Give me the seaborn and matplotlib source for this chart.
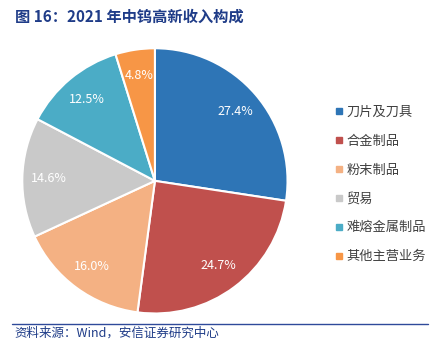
import matplotlib
matplotlib.use('Agg')
import matplotlib.pyplot as plt
from matplotlib.lines import Line2D
import seaborn as sns

# 2021年中钨高新收入构成（%）
categories = ['刀片及刀具', '合金制品', '粉末制品', '贸易', '难熔金属制品', '其他主营业务']
shares = [27.4, 24.7, 16.0, 14.6, 12.5, 4.8]
colors = ['#2E75B6', '#C0504D', '#F4B183', '#C9C9C9', '#4BACC6', '#F79646']

sns.set_theme(style='white')
plt.rcParams['font.family'] = ['Noto Sans CJK SC', 'DejaVu Sans']

fig = plt.figure(figsize=(4.37, 3.55), dpi=100)
ax = fig.add_axes([0.048, 0.113, 0.613, 0.755])

wedges, _, autotexts = ax.pie(
    shares,
    colors=colors,
    startangle=90,
    counterclock=False,
    autopct='%.1f%%',
    pctdistance=0.8,
    wedgeprops=dict(edgecolor='white', linewidth=1.5),
    textprops=dict(color='white', fontsize=9),
)
ax.set_xlim(-1.01, 1.01)
ax.set_ylim(-1.01, 1.01)
ax.set_aspect('equal')

# 图例：小方块 + 灰色文字
handles = [Line2D([0], [0], marker='s', linestyle='none', markersize=4,
                  markerfacecolor=c, markeredgecolor=c) for c in colors]
fig.legend(handles, categories, loc='upper left', bbox_to_anchor=(0.752, 0.72),
           frameon=False, fontsize=9.5, labelcolor='#404040', handlelength=0.5,
           handletextpad=0.35, labelspacing=1.2, borderpad=0)

# 标题
fig.text(0.034, 0.952, '图 16：2021 年中钨高新收入构成', fontsize=11, fontweight='bold',
         color='#1F3C88', ha='left', va='center')

# 底部分隔线与资料来源
fig.add_artist(Line2D([0.027, 0.98], [0.087, 0.087], color='#2F4A9A', linewidth=1))
fig.text(0.032, 0.062, '资料来源：Wind，安信证券研究中心', fontsize=9, fontstyle='italic',
         color='#1F3C88', ha='left', va='center')

fig.savefig('out.png', dpi=100)
